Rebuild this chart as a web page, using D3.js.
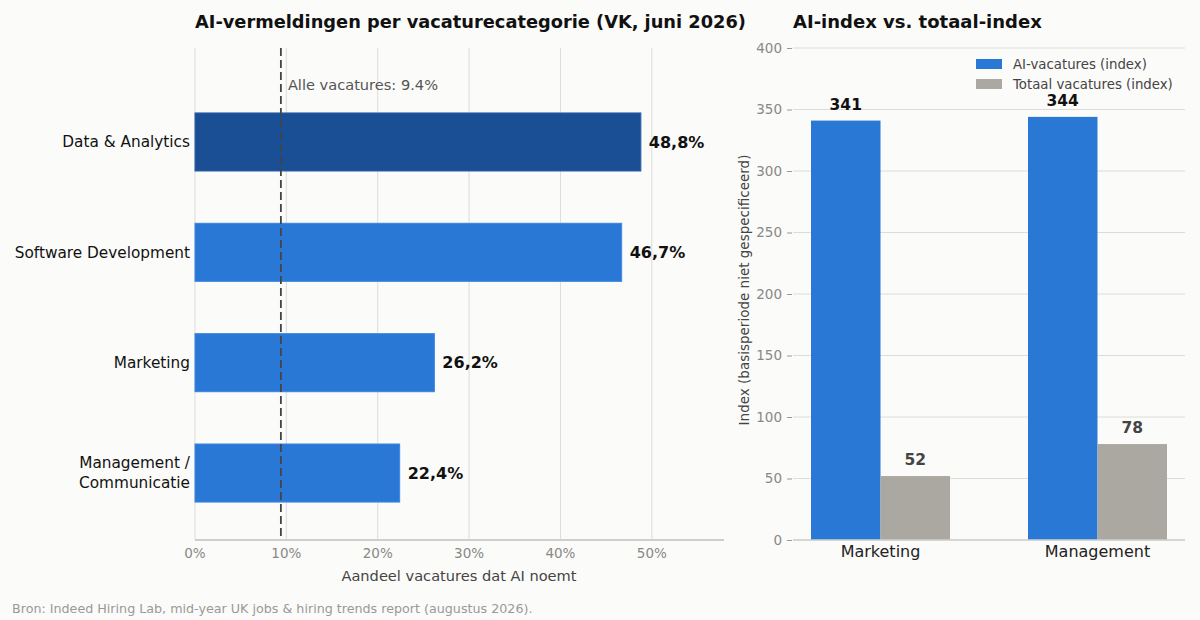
<!DOCTYPE html>
<html>
<head>
<meta charset="utf-8">
<script src="https://cdn.jsdelivr.net/npm/d3@7"></script>
<style>
  body { margin: 0; background: #fbfbf9; }
  svg { font-family: "DejaVu Sans", sans-serif; }
</style>
</head>
<body>
<div id="vis"></div>
<script>
const w = 1200;
const h = 620;

// left panel data
const categories = ["Data & Analytics", "Software Development", "Marketing", "Management / Communicatie"];
const aiShare = [48.8, 46.7, 26.2, 22.4];
const allVacatures = 9.4;
const xTicks = [0, 10, 20, 30, 40, 50];

// right panel data
const groups = ["Marketing", "Management"];
const aiIndex = [341, 344];
const totalIndex = [52, 78];
const yTicks = [0, 50, 100, 150, 200, 250, 300, 350, 400];
const seriesNames = ["AI-vacatures (index)", "Totaal vacatures (index)"];

const blue = "#2a78d6";
const darkBlue = "#1a4f96";
const grey = "#aaa8a1";

const svg = d3.select('#vis')
    .append('svg')
    .attr('width', w)
    .attr('height', h);

svg.append('rect').attr('width', w).attr('height', h).attr('fill', '#fbfbf9');

// ---------- left: horizontal bars ----------
const left = ({top: 48, bottom: 540, x0: 195, x1: 724});

let xScale = d3.scaleLinear()
    .domain([0, 57.9])
    .range([left.x0, left.x1]);

let yBand = d3.scaleBand()
    .domain(categories)
    .range([86.8, 528.2])
    .paddingInner(0.474)
    .paddingOuter(0.237);

svg.append('g')
    .selectAll('line')
    .data(xTicks)
    .join('line')
    .attr('x1', d => xScale(d))
    .attr('x2', d => xScale(d))
    .attr('y1', left.top)
    .attr('y2', left.bottom)
    .attr('stroke', '#dcdcdc')
    .attr('stroke-width', 1);

svg.append('g')
    .selectAll('rect')
    .data(categories)
    .join('rect')
    .attr('x', xScale(0))
    .attr('y', d => yBand(d))
    .attr('width', (d, i) => xScale(aiShare[i]) - xScale(0))
    .attr('height', yBand.bandwidth())
    .attr('fill', (d, i) => i === 0 ? darkBlue : blue)
    .attr('stroke', (d, i) => i === 0 ? '#2a5fa8' : '#3a86e0')
    .attr('stroke-width', 1);

svg.append('g')
    .selectAll('text')
    .data(categories)
    .join('text')
    .attr('x', (d, i) => xScale(aiShare[i]) + 8)
    .attr('y', d => yBand(d) + yBand.bandwidth() / 2)
    .attr('dy', '0.35em')
    .attr('font-size', '16px')
    .attr('font-weight', 'bold')
    .attr('fill', '#111')
    .text((d, i) => d3.format('.1f')(aiShare[i]).replace('.', ',') + '%');

// category labels, wrapped on " / "
svg.append('g')
    .selectAll('text')
    .data(categories)
    .join('text')
    .attr('text-anchor', 'end')
    .attr('font-size', '15.3px')
    .attr('fill', '#111')
    .each(function(d) {
        const lines = d.includes(' / ') ? [d.split(' / ')[0] + ' /', d.split(' / ')[1]] : [d];
        const cy = yBand(d) + yBand.bandwidth() / 2;
        lines.forEach((l, k) => {
            d3.select(this).append('tspan')
                .attr('x', 190)
                .attr('y', cy + (k - (lines.length - 1) / 2) * 20)
                .attr('dy', '0.35em')
                .text(l);
        });
    });

// average line
svg.append('line')
    .attr('x1', xScale(allVacatures))
    .attr('x2', xScale(allVacatures))
    .attr('y1', left.top)
    .attr('y2', left.bottom)
    .attr('stroke', '#444')
    .attr('stroke-width', 1.8)
    .attr('stroke-dasharray', '8,4');

svg.append('text')
    .attr('x', xScale(allVacatures) + 7)
    .attr('y', 90)
    .attr('font-size', '14.6px')
    .attr('fill', '#555')
    .text('Alle vacatures: ' + allVacatures + '%');

// x axis
svg.append('line')
    .attr('x1', left.x0).attr('x2', left.x1)
    .attr('y1', left.bottom).attr('y2', left.bottom)
    .attr('stroke', '#cfcfcb').attr('stroke-width', 2);

svg.append('g')
    .selectAll('text')
    .data(xTicks)
    .join('text')
    .attr('x', d => xScale(d))
    .attr('y', 558)
    .attr('text-anchor', 'middle')
    .attr('font-size', '13.5px')
    .attr('fill', '#888')
    .text(d => d + '%');

svg.append('text')
    .attr('x', 459)
    .attr('y', 581)
    .attr('text-anchor', 'middle')
    .attr('font-size', '14.6px')
    .attr('fill', '#444')
    .text('Aandeel vacatures dat AI noemt');

svg.append('text')
    .attr('x', 195)
    .attr('y', 28)
    .attr('font-size', '17.8px')
    .attr('font-weight', 'bold')
    .attr('fill', '#111')
    .text('AI-vermeldingen per vacaturecategorie (VK, juni 2026)');

// ---------- right: grouped bars ----------
const right = ({top: 48, bottom: 540, x0: 793, x1: 1185});

let yScale = d3.scaleLinear()
    .domain([0, 400])
    .range([right.bottom, right.top]);

let xGroup = d3.scaleBand()
    .domain(groups)
    .range([right.x0, right.x1])
    .paddingInner(0.3594)
    .paddingOuter(0.083);

let xSub = d3.scaleBand()
    .domain(seriesNames)
    .range([0, xGroup.bandwidth()]);

svg.append('g')
    .selectAll('line')
    .data(yTicks)
    .join('line')
    .attr('x1', right.x0)
    .attr('x2', right.x1)
    .attr('y1', d => yScale(d))
    .attr('y2', d => yScale(d))
    .attr('stroke', '#dcdcd8')
    .attr('stroke-width', 1);

let yAxis = d3.axisLeft()
    .scale(yScale)
    .tickValues(yTicks)
    .tickSize(5)
    .tickPadding(5);

const ya = svg.append('g')
    .attr('transform', 'translate(' + (right.x0 - 1) + ', 0)')
    .call(yAxis);
ya.select('.domain').remove();
ya.selectAll('.tick line').attr('stroke', '#999');
ya.selectAll('.tick text')
    .attr('font-size', '13.5px')
    .attr('fill', '#888')
    .attr('font-family', '"DejaVu Sans", sans-serif');

const seriesVals = [aiIndex, totalIndex];
const seriesColors = [blue, grey];

seriesNames.forEach((s, si) => {
    svg.append('g')
        .selectAll('rect')
        .data(groups)
        .join('rect')
        .attr('x', d => xGroup(d) + xSub(s))
        .attr('y', (d, i) => yScale(seriesVals[si][i]))
        .attr('width', xSub.bandwidth())
        .attr('height', (d, i) => yScale(0) - yScale(seriesVals[si][i]))
        .attr('fill', seriesColors[si]);

    svg.append('g')
        .selectAll('text')
        .data(groups)
        .join('text')
        .attr('x', d => xGroup(d) + xSub(s) + xSub.bandwidth() / 2)
        .attr('y', (d, i) => yScale(seriesVals[si][i]) - 11)
        .attr('text-anchor', 'middle')
        .attr('font-size', '15.5px')
        .attr('font-weight', 'bold')
        .attr('fill', si === 0 ? '#111' : '#444')
        .text((d, i) => seriesVals[si][i]);
});

svg.append('line')
    .attr('x1', right.x0).attr('x2', right.x1)
    .attr('y1', right.bottom).attr('y2', right.bottom)
    .attr('stroke', '#cfcfcb').attr('stroke-width', 1.5);

svg.append('g')
    .selectAll('text')
    .data(groups)
    .join('text')
    .attr('x', d => xGroup(d) + xGroup.bandwidth() / 2)
    .attr('y', 557)
    .attr('text-anchor', 'middle')
    .attr('font-size', '16px')
    .attr('fill', '#222')
    .text(d => d);

svg.append('text')
    .attr('transform', 'translate(749, 290) rotate(-90)')
    .attr('text-anchor', 'middle')
    .attr('font-size', '13.5px')
    .attr('fill', '#444')
    .text('Index (basisperiode niet gespecificeerd)');

// legend
const legend = svg.append('g')
    .selectAll('g')
    .data(seriesNames)
    .join('g')
    .attr('transform', (d, i) => 'translate(976, ' + (59 + i * 20) + ')');
legend.append('rect')
    .attr('width', 26).attr('height', 10)
    .attr('fill', (d, i) => seriesColors[i]);
legend.append('text')
    .attr('x', 37).attr('y', 5)
    .attr('dy', '0.35em')
    .attr('font-size', '13.3px')
    .attr('fill', '#444')
    .text(d => d);

svg.append('text')
    .attr('x', 793)
    .attr('y', 28)
    .attr('font-size', '18px')
    .attr('font-weight', 'bold')
    .attr('fill', '#111')
    .text('AI-index vs. totaal-index');

svg.append('text')
    .attr('x', 12)
    .attr('y', 613)
    .attr('font-size', '12.7px')
    .attr('fill', '#999')
    .text('Bron: Indeed Hiring Lab, mid-year UK jobs & hiring trends report (augustus 2026).');
</script>
</body>
</html>
